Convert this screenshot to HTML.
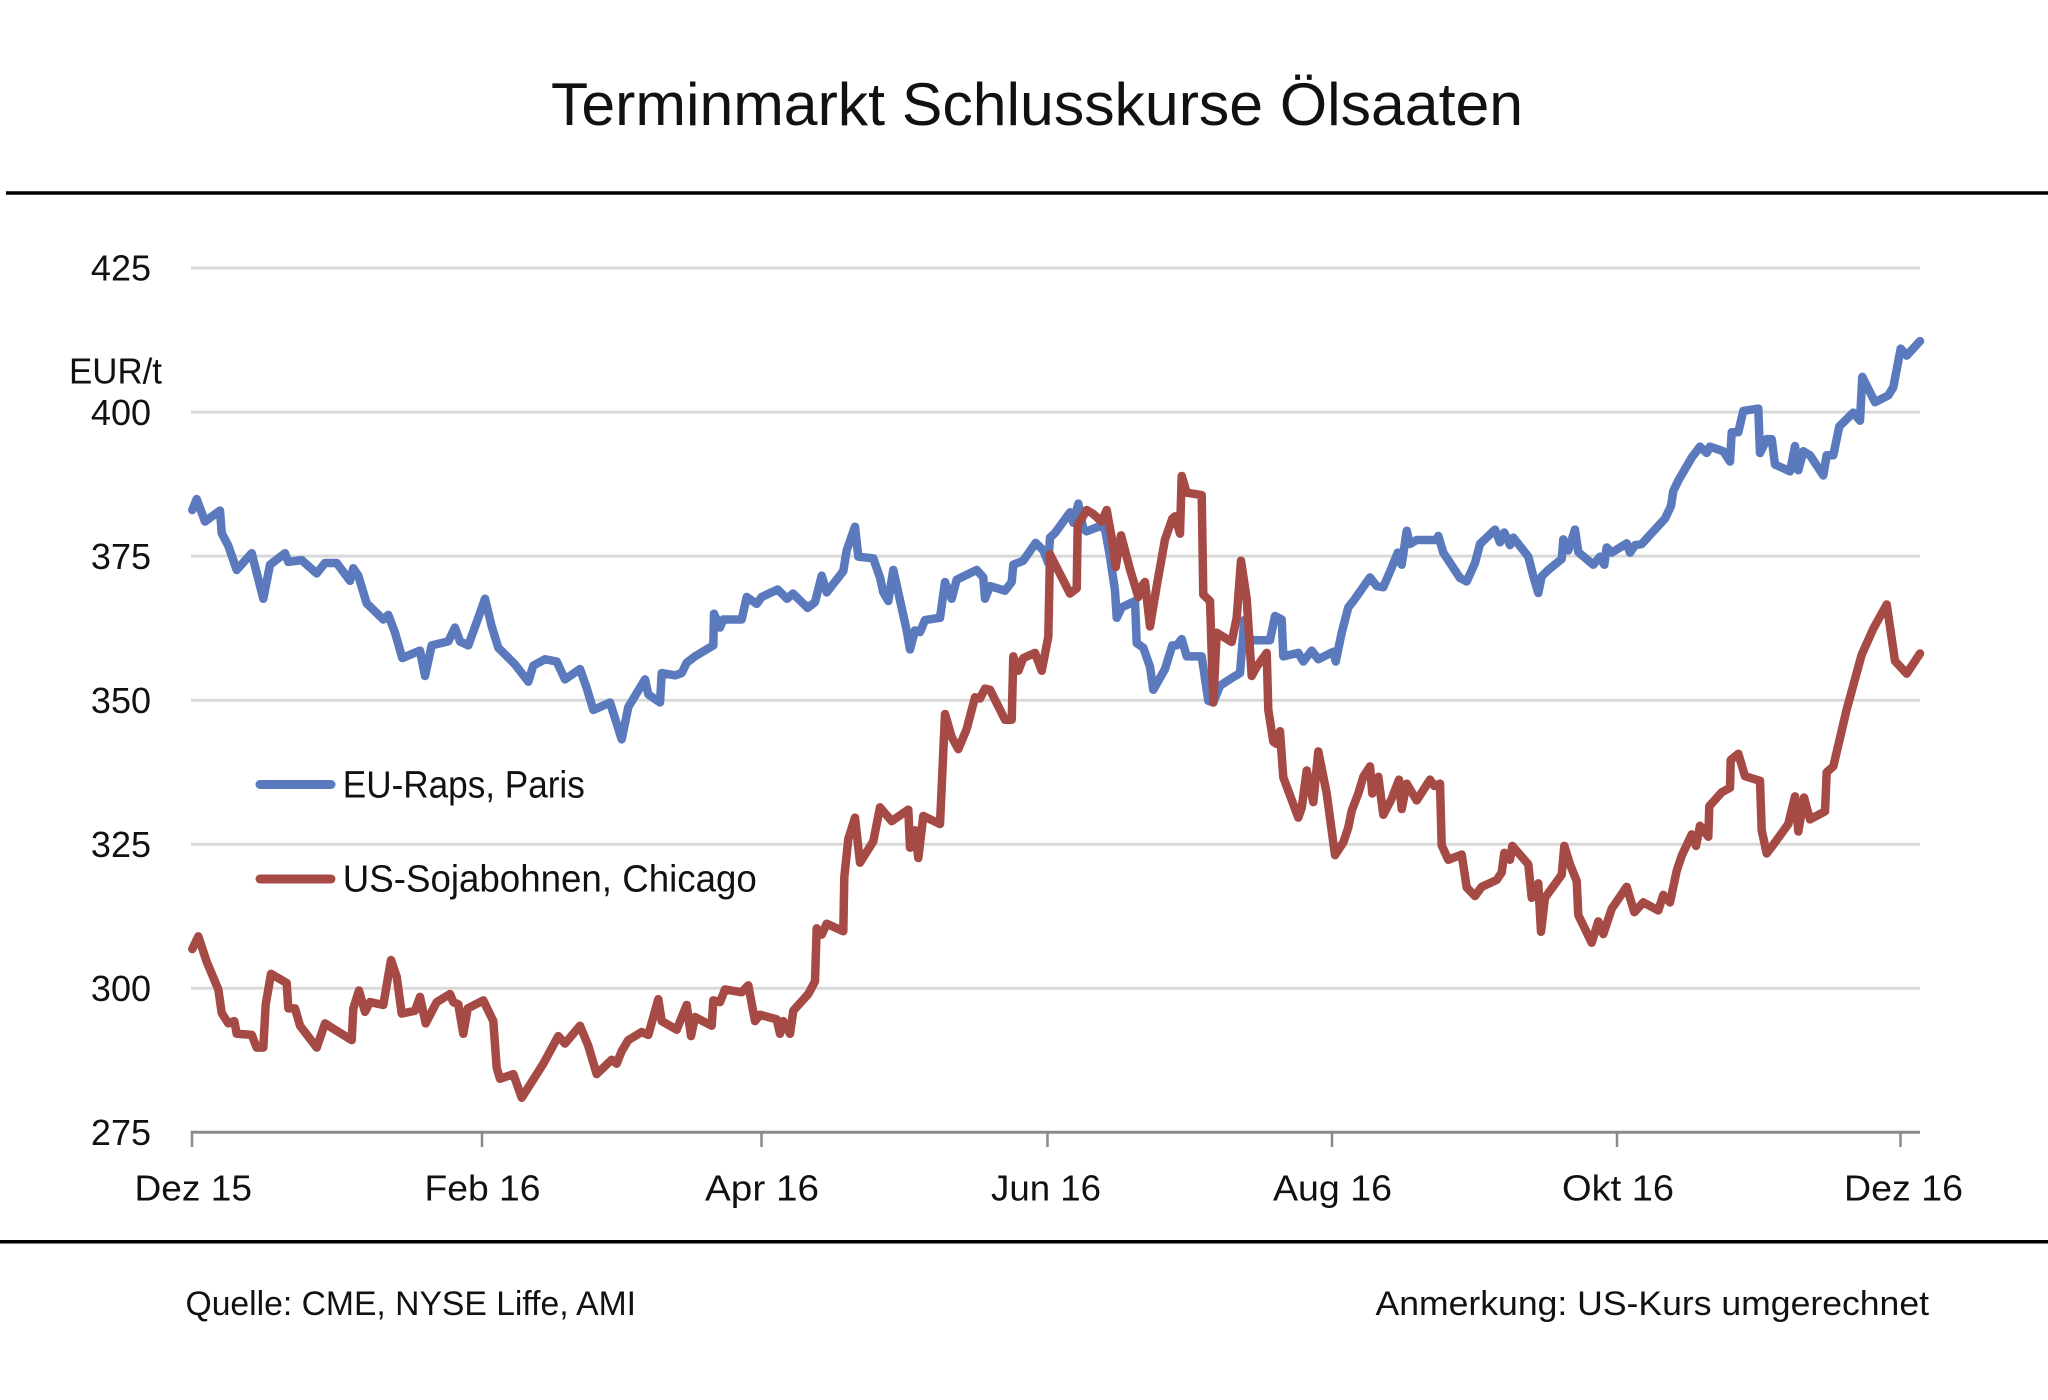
<!DOCTYPE html>
<html>
<head>
<meta charset="utf-8">
<style>
  html, body { margin: 0; padding: 0; background: #ffffff; }
  svg { display: block; }
  text { font-family: "Liberation Sans", "DejaVu Sans", sans-serif; fill: #111111; }
</style>
</head>
<body>
<svg width="2048" height="1400" viewBox="0 0 2048 1400" xmlns="http://www.w3.org/2000/svg">
  <rect x="0" y="0" width="2048" height="1400" fill="#ffffff"/>

  <!-- Title -->
  <text x="551" y="125" font-size="60" textLength="972" lengthAdjust="spacingAndGlyphs">Terminmarkt Schlusskurse  Ölsaaten</text>

  <!-- Rules -->
  <line x1="6" y1="193" x2="2048" y2="193" stroke="#000" stroke-width="3.5"/>
  <line x1="0" y1="1241.7" x2="2048" y2="1241.7" stroke="#000" stroke-width="3.5"/>

  <!-- Gridlines -->
  <g stroke="#d9d9d9" stroke-width="3">
    <line x1="191" y1="268" x2="1920" y2="268"/>
    <line x1="191" y1="412.1" x2="1920" y2="412.1"/>
    <line x1="191" y1="556.1" x2="1920" y2="556.1"/>
    <line x1="191" y1="700.2" x2="1920" y2="700.2"/>
    <line x1="191" y1="844.2" x2="1920" y2="844.2"/>
    <line x1="191" y1="988.3" x2="1920" y2="988.3"/>
  </g>

  <!-- X axis and ticks -->
  <g stroke="#8a8a8a" stroke-width="3">
    <line x1="190.7" y1="1132.3" x2="1920" y2="1132.3"/>
  </g>
  <g stroke="#8a8a8a" stroke-width="2.5">
    <line x1="192" y1="1132" x2="192" y2="1147"/>
    <line x1="482" y1="1132" x2="482" y2="1147"/>
    <line x1="761.5" y1="1132" x2="761.5" y2="1147"/>
    <line x1="1047.5" y1="1132" x2="1047.5" y2="1147"/>
    <line x1="1332" y1="1132" x2="1332" y2="1147"/>
    <line x1="1617" y1="1132" x2="1617" y2="1147"/>
    <line x1="1900.5" y1="1132" x2="1900.5" y2="1147"/>
  </g>

  <!-- Y labels -->
  <g font-size="36" text-anchor="end">
    <text x="151" y="280.7">425</text>
    <text x="151" y="424.8">400</text>
    <text x="151" y="568.8">375</text>
    <text x="151" y="712.9">350</text>
    <text x="151" y="856.9">325</text>
    <text x="151" y="1001">300</text>
    <text x="151" y="1145">275</text>
  </g>
  <text x="69" y="383.3" font-size="36" textLength="93" lengthAdjust="spacingAndGlyphs">EUR/t</text>

  <!-- X labels -->
  <g font-size="36">
    <text x="134.5" y="1200.5" textLength="117.5" lengthAdjust="spacingAndGlyphs">Dez 15</text>
    <text x="424.5" y="1200.5" textLength="116" lengthAdjust="spacingAndGlyphs">Feb 16</text>
    <text x="705" y="1200.5" textLength="114" lengthAdjust="spacingAndGlyphs">Apr 16</text>
    <text x="991" y="1200.5" textLength="110" lengthAdjust="spacingAndGlyphs">Jun 16</text>
    <text x="1273" y="1200.5" textLength="119" lengthAdjust="spacingAndGlyphs">Aug 16</text>
    <text x="1562" y="1200.5" textLength="112" lengthAdjust="spacingAndGlyphs">Okt 16</text>
    <text x="1844" y="1200.5" textLength="119" lengthAdjust="spacingAndGlyphs">Dez 16</text>
  </g>

  <!-- Footer -->
  <text x="185.5" y="1315" font-size="34" textLength="450.5" lengthAdjust="spacingAndGlyphs">Quelle:  CME, NYSE Liffe, AMI</text>
  <text x="1375.5" y="1315" font-size="34" textLength="553.5" lengthAdjust="spacingAndGlyphs">Anmerkung:  US-Kurs umgerechnet</text>

  <!-- Series -->
  <g transform="matrix(1 0 0 -5.762 0 2716.85)" fill="none" stroke-linejoin="round" stroke-linecap="round">
    <path vector-effect="non-scaling-stroke" stroke="#5a7abd" stroke-width="8.5" d="M192.3,383 L196.7,384.9 L205,381 L220,382.9 L221.7,379 L228.3,376.8 L236.7,372.6 L251.7,375.5 L263.3,367.6 L270,373.5 L285,375.5 L288.3,374 L301.7,374.3 L316.7,372 L325,373.8 L336.7,373.8 L350,370.7 L353.3,372.9 L358.3,371.6 L366.7,366.8 L383.3,364 L388.3,364.8 L395,361.7 L402.3,357.3 L420,358.6 L425,354.2 L431.7,359.5 L448.3,360.2 L455,362.6 L460,360.2 L468.3,359.5 L478.3,364.3 L485,367.6 L491.7,362.8 L498.3,359.1 L515,356.2 L528.3,353.2 L533.3,356 L545,357.1 L556.7,356.7 L565,353.6 L580,355.4 L586.7,352.1 L593.3,348.3 L610,349.6 L621.7,343.2 L628.3,348.8 L645,353.6 L648.3,351 L660,349.6 L661.7,354.7 L675,354.3 L681.7,354.7 L686.7,356.5 L695,357.6 L713.3,359.5 L714,365 L720,362.6 L723.3,364 L741.7,364 L746.7,367.9 L756.7,366.7 L761.7,367.9 L777.7,369.2 L787,367.6 L793,368.5 L807.7,366 L815,367 L821.7,371.6 L826.7,368.7 L843.3,372.4 L846.7,376 L855,380.1 L858.3,374.9 L873.3,374.6 L880,371.3 L883.3,368.7 L888.3,367.2 L893.3,372.6 L901.7,366 L906.7,362.1 L910,358.8 L915,362.1 L920,361.8 L925,363.9 L940,364.3 L945,370.5 L951.7,367.6 L956.7,370.9 L976.7,372.6 L983.3,371.3 L985,367.6 L990,369.8 L1005,369 L1011.7,370.5 L1013.3,373.5 L1023.3,374.2 L1035.7,377.3 L1043.3,376 L1048.3,373.8 L1050,378.2 L1055,379 L1070,382.6 L1073.3,380.8 L1078.3,384.1 L1083.3,379.7 L1086.7,379.3 L1100,380.2 L1105,379.7 L1110,374.9 L1115,369 L1116.7,364.3 L1121.7,366.1 L1135,367.2 L1136.7,359.9 L1143.3,359.1 L1150,355.8 L1153.3,351.8 L1165,355.4 L1172.3,359.5 L1176.7,359.5 L1181.7,360.6 L1186.7,357.6 L1201.7,357.6 L1208.3,349.9 L1213.3,349.6 L1220,352.5 L1233.3,354 L1240,354.7 L1244.3,363.9 L1248.3,360.6 L1255,360.4 L1270,360.4 L1275,364.6 L1281.7,364 L1283.3,357.6 L1298.3,358.2 L1303.3,356.7 L1311.7,358.6 L1318.3,357.1 L1333.3,358.4 L1335.7,356.7 L1341.7,361.7 L1348.3,366.1 L1355,367.6 L1370,371.3 L1376.7,369.8 L1383.3,369.6 L1391.7,373 L1397.7,375.6 L1401.7,373.5 L1406.7,379.4 L1410,377.1 L1416.7,377.8 L1436.7,377.8 L1438.3,378.5 L1443.3,375.6 L1460,371.2 L1466.7,370.6 L1475,373.8 L1480,377.1 L1495,379.6 L1500,377.4 L1504.3,379.1 L1510,376.9 L1513.3,378.2 L1528.3,374.9 L1533.3,371.5 L1538.3,368.6 L1541.7,371.5 L1548.3,372.6 L1561.7,374.5 L1563.3,377.9 L1568.3,376 L1575,379.6 L1578.3,375.7 L1593.3,373.5 L1600,374.9 L1604.3,373.5 L1606.7,376.5 L1611.7,375.6 L1626.7,377.2 L1630,375.6 L1635,376.9 L1641.7,377.1 L1665,381.5 L1671,383.7 L1673.3,386.3 L1678.3,388.1 L1691.7,392.1 L1700,394 L1706.7,392.9 L1710,394 L1723.3,393.2 L1730,391.4 L1731.7,396.5 L1738.3,396.5 L1743.3,400.2 L1758.3,400.6 L1760,392.9 L1766.7,395.3 L1771.7,395.3 L1775,390.9 L1790,389.7 L1795,394.1 L1798.3,389.9 L1803.3,393.2 L1810,392.5 L1823.3,389 L1826.7,392.5 L1833.3,392.5 L1839.3,397.5 L1853.3,399.9 L1860,398.5 L1862.3,406.1 L1875,401.7 L1888.3,402.9 L1893.3,404.3 L1900.7,411 L1906.7,409.8 L1920,412.3"/>
    <path vector-effect="non-scaling-stroke" stroke="#a64a45" stroke-width="8.5" d="M192.3,306.8 L198.3,309 L206.7,304.6 L218.3,299.8 L221.7,295.7 L228.3,293.9 L234.3,294.3 L236.7,292.1 L251.7,291.9 L256.7,289.7 L263.3,289.7 L265.7,297.2 L271,302.5 L286.7,300.9 L288.3,296.5 L295,296.5 L300,293.5 L316.7,289.7 L325,293.9 L335,292.8 L351.7,291 L353.3,296.5 L359,299.6 L365,295.9 L370,297.6 L383.3,297.1 L391,304.9 L396.7,302 L401.7,295.6 L415,296.1 L420,298.5 L425.7,293.9 L436.7,297.6 L450,299 L453.3,297.6 L458.3,297.2 L463.3,292.1 L467.7,296.5 L483.3,297.9 L493.3,294.3 L496.7,286.2 L500,284.3 L513.3,285.1 L521.7,281 L543.3,286.9 L558.3,291.7 L565,290.4 L580,293.5 L588.3,290 L596.7,285.1 L611.7,287.6 L616.7,286.9 L621.7,289.1 L628.3,291 L641.7,292.4 L648.3,291.9 L658.3,298.1 L661.7,294.3 L676.7,292.8 L686.7,297.1 L691,291.7 L695,295 L711.7,293.5 L713.3,297.9 L720,297.6 L725,299.8 L741.7,299.3 L748.3,300.5 L755,294.3 L760,295.4 L776.7,294.6 L780,292.1 L783.3,294.3 L790,292.1 L793.3,296.1 L808.3,299 L815,301.2 L816.7,310.4 L821.7,309.3 L826.7,311.2 L843.3,309.9 L844.3,319.3 L848.3,325.9 L855,329.6 L860,321.8 L873.3,325.5 L880,331.4 L891.7,329 L908.3,331 L910,324.4 L915,327.4 L918.3,322.6 L923.3,329.9 L940,328.5 L945,347.6 L951.7,343.6 L958.3,341.5 L966.7,345 L975,350.5 L980,350.3 L985,352 L990,351.8 L1005,346.6 L1011.7,346.6 L1013.3,357.6 L1018.3,355.1 L1023.3,357.3 L1035,358.2 L1041.7,355.1 L1048.3,361 L1050,375.3 L1070,368.5 L1076.7,369.4 L1077.7,380.4 L1086.7,383 L1093.3,382.3 L1101.7,381 L1106.7,383 L1111.7,378.2 L1115.7,373.1 L1121,378.6 L1130,372.7 L1138.3,367.9 L1141.7,369.8 L1145,370.5 L1150,362.8 L1156.7,369.8 L1165,377.9 L1172.3,381.5 L1175,381.9 L1180,378.9 L1181.7,388.9 L1186.7,386 L1201.7,385.6 L1203.3,368.3 L1210,367.2 L1213.3,349.6 L1216.7,361.7 L1231.7,360.1 L1236.7,364.3 L1241,374.2 L1246.7,367.6 L1251.7,354.2 L1256.7,355.8 L1266.7,358.2 L1268.3,348.3 L1273.3,342.8 L1276.7,342.4 L1280,344.6 L1283.3,336.6 L1298.3,329.6 L1301.7,331.3 L1306.7,337.8 L1313.3,332.3 L1318.3,341.1 L1326.7,333.8 L1335,323.1 L1343.3,325.3 L1348.3,327.9 L1351.7,330.8 L1358.3,333.8 L1363.3,336.7 L1370,338.5 L1372.3,333.8 L1378.3,336.7 L1383.3,330.1 L1391.7,332.9 L1399,336.2 L1401.7,331.1 L1406.7,335.5 L1416.7,332.6 L1430,336.2 L1434.3,335.1 L1440,335.5 L1441.7,324.8 L1448.3,322.3 L1461.7,323.2 L1466.7,317.5 L1475,316 L1481.7,317.6 L1496.7,318.8 L1501.7,320.1 L1504.3,323.5 L1510,322.3 L1512.3,324.7 L1528.3,321.5 L1531.7,315.7 L1538.3,318.2 L1541,309.8 L1545,315.7 L1561.7,319.7 L1564.3,324.7 L1570,321.5 L1576.7,318.6 L1578.3,312.7 L1591.7,307.9 L1598.3,311.6 L1603.3,309.4 L1611.7,313.8 L1626.7,317.6 L1634.3,313.2 L1643.3,314.9 L1658.3,313.5 L1663.3,316.2 L1670,314.9 L1676.7,320.4 L1681.7,323 L1691.7,326.7 L1696,324.7 L1700,328.2 L1708.3,326.3 L1709.3,331.6 L1721.7,334 L1730,334.8 L1730.7,339.6 L1738.3,340.7 L1745,336.8 L1760,336 L1761.7,327.4 L1766.7,323.4 L1773.3,324.9 L1788.3,328.5 L1795,333.3 L1798.3,327.2 L1804,333.1 L1810,329.3 L1825,330.7 L1826.7,337.5 L1833.3,338.5 L1846.7,348.4 L1861.7,357.9 L1873.3,362.4 L1886.7,366.6 L1895,356.8 L1906.7,354.6 L1920,358.1"/>
  </g>

  <!-- Legend -->
  <line x1="260" y1="784.5" x2="331" y2="784.5" stroke="#5a7abd" stroke-width="9" stroke-linecap="round"/>
  <text x="342.8" y="797.3" font-size="38" textLength="242" lengthAdjust="spacingAndGlyphs">EU-Raps, Paris</text>
  <line x1="260" y1="879" x2="331" y2="879" stroke="#a64a45" stroke-width="9" stroke-linecap="round"/>
  <text x="342.8" y="891.7" font-size="38" textLength="414" lengthAdjust="spacingAndGlyphs">US-Sojabohnen, Chicago</text>
</svg>
</body>
</html>
